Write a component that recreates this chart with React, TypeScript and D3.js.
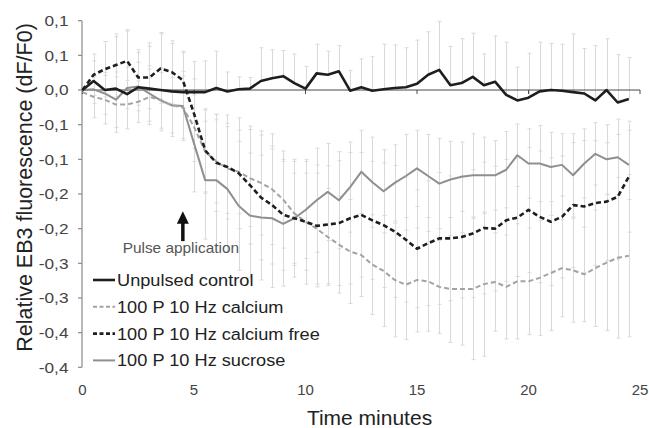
import * as d3 from 'd3';

// time points every 0.5 min, 0 .. 24.5
const times = d3.range(50).map(i => i * 0.5);

const control = [
  0, 0.013, 0.0, 0.002, -0.006, 0.004, 0.002, 0.0, -0.002, -0.003,
  -0.003, -0.003, 0.003, -0.002, 0.001, 0.002, 0.013, 0.017, 0.02, 0.01,
  0.002, 0.024, 0.022, 0.027, -0.001, 0.004, -0.001, 0.001, 0.003, 0.004,
  0.009, 0.022, 0.029, 0.007, 0.01, 0.019, 0.007, 0.012, -0.007, -0.015,
  -0.011, -0.002, 0.0, -0.001, -0.003, -0.005, -0.015, 0.0, -0.018, -0.013,
];
const controlErr = [
  0, 0.029, 0.07, 0.075, 0.091, 0.05, 0.066, 0.083, 0.069, 0.059,
  0.044, 0.045, 0.053, 0.028, 0.018, 0.016, 0.048, 0.041, 0.037, 0.042,
  0.032, 0.042, 0.034, 0.037, 0.029, 0.041, 0.049, 0.065, 0.062, 0.057,
  0.063, 0.062, 0.07, 0.056, 0.064, 0.063, 0.045, 0.066, 0.076, 0.048,
  0.064, 0.071, 0.067, 0.067, 0.084, 0.065, 0.079, 0.074, 0.069, 0.06,
];

const calcium = [
  -0.003, -0.01, -0.014, -0.021, -0.021, -0.017, -0.01, -0.014, -0.022, -0.025,
  -0.053, -0.089, -0.103, -0.113, -0.118, -0.127, -0.134, -0.143, -0.158, -0.178,
  -0.19, -0.2, -0.212, -0.223, -0.233, -0.238, -0.252, -0.261, -0.274, -0.281,
  -0.274, -0.276, -0.284, -0.287, -0.287, -0.287, -0.28, -0.277, -0.284, -0.276,
  -0.276, -0.271, -0.264, -0.257, -0.26, -0.266, -0.257, -0.249, -0.242, -0.239,
];
const calciumErr = [
  0, 0.03, 0.035, 0.04, 0.035, 0.03, 0.04, 0.045, 0.04, 0.045,
  0.05, 0.06, 0.06, 0.065, 0.06, 0.07, 0.075, 0.08, 0.07, 0.075,
  0.07, 0.08, 0.07, 0.07, 0.075, 0.06, 0.072, 0.08, 0.082, 0.079,
  0.075, 0.072, 0.067, 0.077, 0.081, 0.102, 0.104, 0.071, 0.075, 0.083,
  0.077, 0.083, 0.083, 0.07, 0.075, 0.068, 0.084, 0.098, 0.116, 0.117,
];

const calciumFree = [
  0, 0.022, 0.03, 0.036, 0.042, 0.018, 0.018, 0.031, 0.026, 0.014,
  -0.034, -0.087, -0.105, -0.111, -0.12, -0.137, -0.155, -0.166, -0.18, -0.185,
  -0.19, -0.196, -0.194, -0.192, -0.185, -0.18, -0.188, -0.195, -0.204, -0.216,
  -0.229, -0.221, -0.214, -0.214, -0.212, -0.207, -0.199, -0.2, -0.188, -0.184,
  -0.173, -0.183, -0.19, -0.183, -0.166, -0.168, -0.163, -0.161, -0.154, -0.125,
];
const calciumFreeErr = [
  0, 0.03, 0.04, 0.045, 0.045, 0.04, 0.045, 0.05, 0.045, 0.04,
  0.05, 0.06, 0.07, 0.075, 0.08, 0.085, 0.09, 0.085, 0.08, 0.085,
  0.09, 0.088, 0.085, 0.09, 0.095, 0.09, 0.085, 0.09, 0.095, 0.09,
  0.085, 0.09, 0.095, 0.09, 0.088, 0.092, 0.095, 0.09, 0.088, 0.085,
  0.09, 0.095, 0.092, 0.088, 0.09, 0.095, 0.09, 0.085, 0.09, 0.08,
];

const sucrose = [
  0, 0.001, -0.005, -0.014, 0.003, 0.005, -0.005, -0.015, -0.022, -0.023,
  -0.077, -0.13, -0.13, -0.143, -0.167, -0.181, -0.184, -0.185, -0.193, -0.185,
  -0.173, -0.159, -0.147, -0.159, -0.14, -0.118, -0.133, -0.146, -0.134, -0.124,
  -0.113, -0.124, -0.135, -0.129, -0.125, -0.123, -0.123, -0.123, -0.115, -0.094,
  -0.106, -0.106, -0.111, -0.108, -0.123, -0.106, -0.092, -0.1, -0.097, -0.108,
];
const sucroseErr = [
  0, 0.02, 0.03, 0.04, 0.03, 0.035, 0.04, 0.04, 0.045, 0.05,
  0.07, 0.085, 0.095, 0.09, 0.093, 0.09, 0.09, 0.1, 0.09, 0.065,
  0.07, 0.075, 0.07, 0.07, 0.065, 0.06, 0.065, 0.06, 0.055, 0.06,
  0.055, 0.06, 0.065, 0.055, 0.05, 0.06, 0.055, 0.05, 0.055, 0.045,
  0.05, 0.055, 0.05, 0.045, 0.06, 0.05, 0.045, 0.05, 0.055, 0.05,
];

const xTicks = [0, 5, 10, 15, 20, 25];
const yTicks = [0.1, 0.05, 0, -0.05, -0.1, -0.15, -0.2, -0.25, -0.3, -0.35, -0.4];
// Excel shows one decimal, so neighbouring ticks repeat
const yTickLabels = ['0,1', '0,1', '0,0', '-0,1', '-0,1', '-0,2', '-0,2', '-0,3', '-0,3', '-0,4', '-0,4'];

const pulseTime = 4.5;

const FONT = '"Liberation Sans", Arial, sans-serif';

interface Series {
  name: string;
  values: number[];
  err: number[];
  plusOnly: boolean;
  color: string;
  width: number;
  dash?: string;
}

const series: Series[] = [
  { name: '100 P 10 Hz sucrose', values: sucrose, err: sucroseErr, plusOnly: false, color: '#8f8f8f', width: 2 },
  { name: '100 P 10 Hz calcium', values: calcium, err: calciumErr, plusOnly: false, color: '#a3a3a3', width: 2, dash: '5,3' },
  { name: '100 P 10 Hz calcium free', values: calciumFree, err: calciumFreeErr, plusOnly: false, color: '#1e1e1e', width: 2.6, dash: '5,3' },
  { name: 'Unpulsed control', values: control, err: controlErr, plusOnly: true, color: '#1e1e1e', width: 2.6 },
];
const legendOrder = [3, 1, 2, 0];

function Label(props: { x: number; y: number; size: number; sx?: number; rot?: number; anchor?: string; fill?: string; children: string }) {
  const { x, y, size, sx = 1, rot = 0, anchor = 'start', fill = '#333', children } = props;
  return (
    <text
      transform={`translate(${x},${y}) rotate(${rot}) scale(${sx},1)`}
      textAnchor={anchor}
      fontFamily={FONT}
      fontSize={size}
      fill={fill}
    >
      {children}
    </text>
  );
}

export default function App() {
  const W = 649;
  const H = 428;

  const x = d3.scaleLinear().domain([0, 25]).range([82.5, 640]);
  const y = d3.scaleLinear().domain([-0.4, 0.1]).range([367.3, 20.7]);

  const line = d3.line<number>()
    .x((_, i) => x(times[i]))
    .y(d => y(d));

  const cap = 2;
  const px = x(pulseTime);

  return (
    <svg width={W} height={H} style={{ position: 'absolute', left: 0, top: 0, background: '#fff' }}>
      {/* error bars */}
      <g stroke="#d9d9d9" strokeWidth={1}>
        {series.map(s =>
          s.values.map((v, i) => {
            if (i === 0) return null;
            const xi = Math.round(x(times[i])) + 0.5;
            const top = y(v + s.err[i]);
            const bot = s.plusOnly ? y(v) : y(v - s.err[i]);
            return (
              <g key={s.name + i}>
                <line x1={xi} x2={xi} y1={top} y2={bot} />
                <line x1={xi - cap} x2={xi + cap} y1={top} y2={top} />
                {!s.plusOnly && <line x1={xi - cap} x2={xi + cap} y1={bot} y2={bot} />}
              </g>
            );
          })
        )}
      </g>

      {/* y axis */}
      <line x1={82} x2={82} y1={y(0.1)} y2={y(-0.4)} stroke="#8a8a8a" strokeWidth={1.2} />
      {yTicks.map((t, i) => (
        <g key={'yt' + i}>
          <line x1={78} x2={82} y1={y(t)} y2={y(t)} stroke="#8a8a8a" strokeWidth={1.2} />
          <Label x={68.5} y={y(t) + 5.2} size={15} sx={1.15} anchor="end" fill="#444">{yTickLabels[i]}</Label>
        </g>
      ))}

      {/* x axis on zero line */}
      <line x1={x(0)} x2={x(25)} y1={y(0)} y2={y(0)} stroke="#4a4a4a" strokeWidth={1} />
      {xTicks.map(t => (
        <g key={'xt' + t}>
          <line x1={x(t)} x2={x(t)} y1={y(0)} y2={y(0) + 4} stroke="#4a4a4a" strokeWidth={1} />
          <Label x={x(t)} y={395} size={15} anchor="middle" fill="#444">{String(t)}</Label>
        </g>
      ))}

      {/* series lines */}
      {series.map(s => (
        <path
          key={s.name}
          d={line(s.values) || ''}
          fill="none"
          stroke={s.color}
          strokeWidth={s.width}
          strokeDasharray={s.dash}
          strokeLinejoin="round"
        />
      ))}

      {/* pulse arrow */}
      <line x1={px} x2={px} y1={y(-0.19)} y2={y(-0.218)} stroke="#111" strokeWidth={3.5} />
      <path
        d={`M${px},${y(-0.175)} L${px + 6},${y(-0.193)} L${px - 6},${y(-0.193)} Z`}
        fill="#111"
      />
      <Label x={px - 2} y={253} size={14} sx={1.1} anchor="middle" fill="#555">Pulse application</Label>

      {/* legend */}
      {legendOrder.map((si, r) => {
        const s = series[si];
        const by = 286 + r * 26.8;
        return (
          <g key={'lg' + si}>
            <line x1={93} x2={115} y1={by - 6} y2={by - 6} stroke={s.color} strokeWidth={s.width} strokeDasharray={s.dash ? '4,2.5' : undefined} />
            <Label x={117} y={by} size={17} sx={1.07} fill="#222">{s.name}</Label>
          </g>
        );
      })}

      {/* axis titles */}
      <Label x={369.5} y={425} size={21} anchor="middle" fill="#222">Time minutes</Label>
      <Label x={31.5} y={187.5} size={21.5} rot={-90} anchor="middle" fill="#222">Relative EB3 fluorescence (dF/F0)</Label>
    </svg>
  );
}
